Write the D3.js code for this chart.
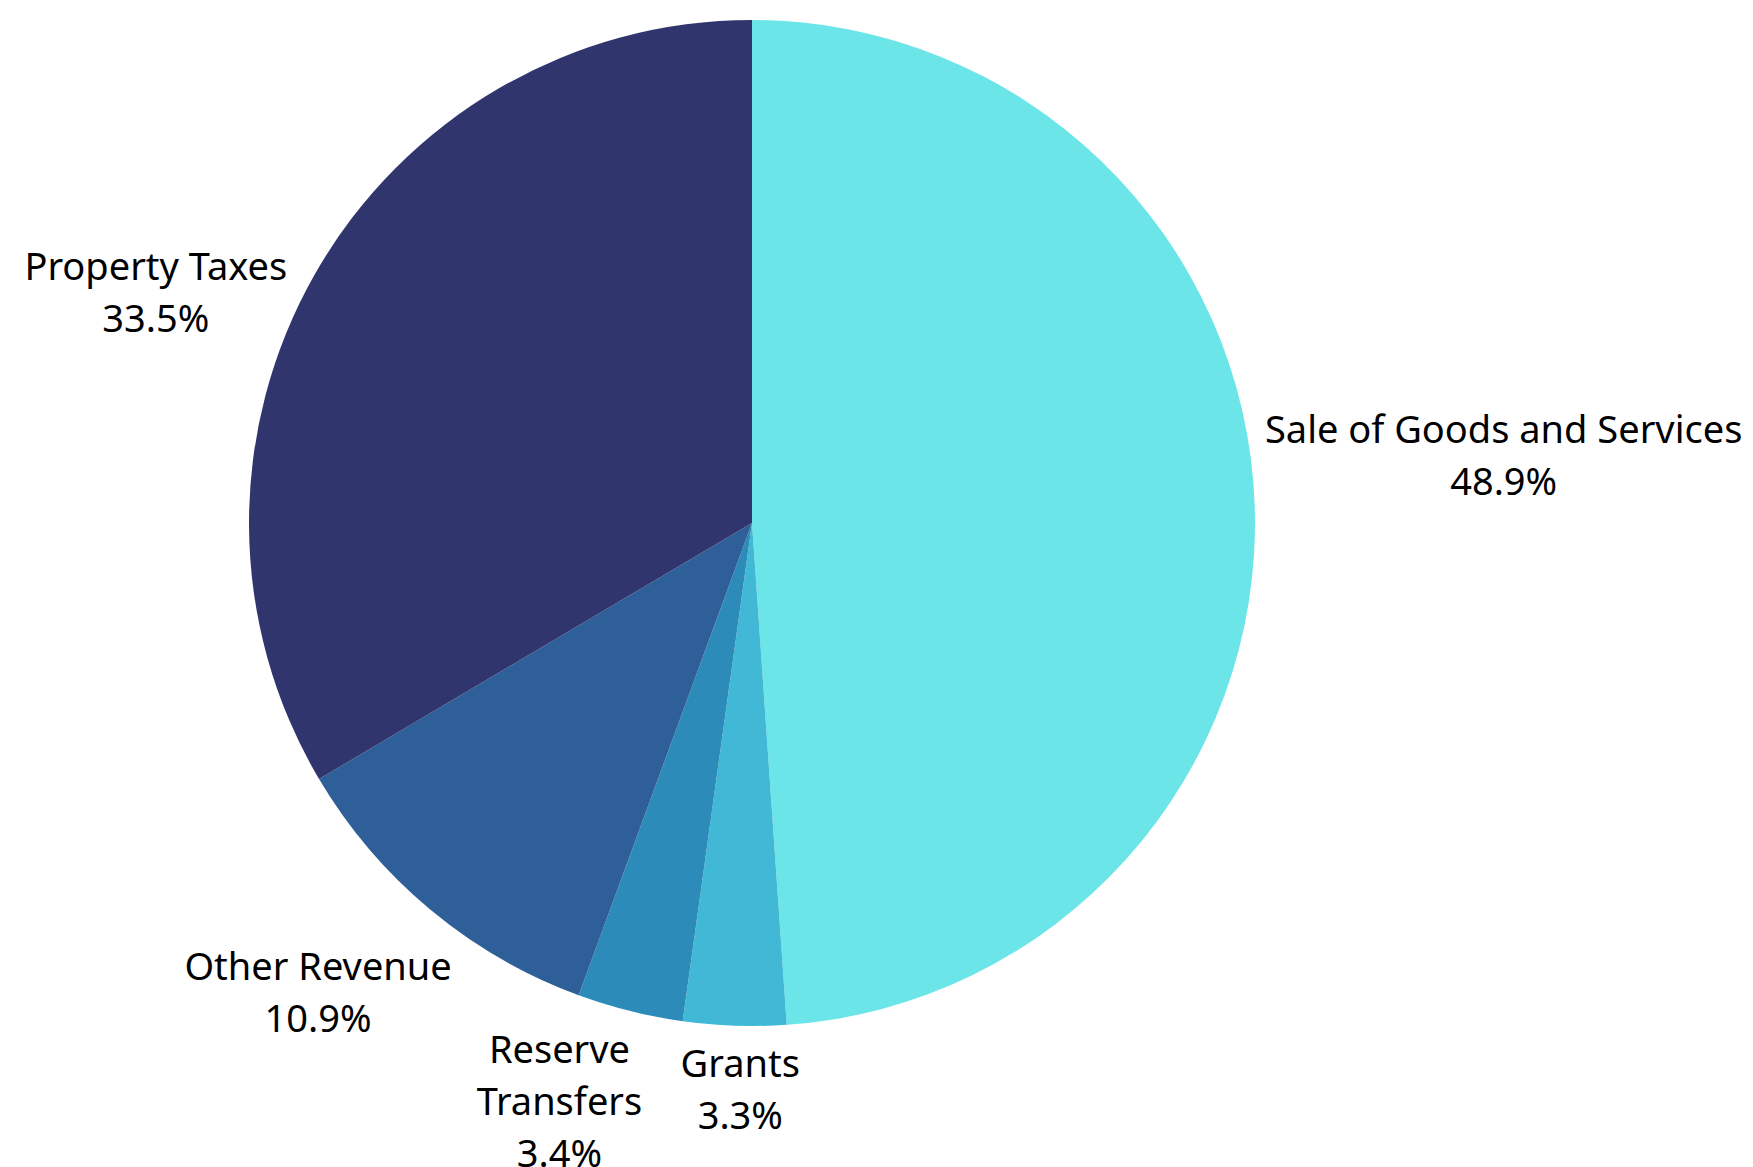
<!DOCTYPE html>
<html>
<head>
<meta charset="utf-8">
<script src="https://cdn.jsdelivr.net/npm/d3@7"></script>
<style>
	body { margin: 0; background: #ffffff; }
	svg { display: block; }
	.slice-label { font-family: "Noto Sans", sans-serif; font-size: 38px; fill: #000000; }
</style>
</head>
<body>
<div id="svg-div"></div>
<script>
// data, clockwise from 12 o'clock
var categories = ["Sale of Goods and Services", "Grants", "Reserve Transfers", "Other Revenue", "Property Taxes"];
var shares = [48.9, 3.3, 3.4, 10.9, 33.5];
var labelLines = [["Sale of Goods and Services"], ["Grants"], ["Reserve", "Transfers"], ["Other Revenue"], ["Property Taxes"]];
var sliceColors = ["#6ce5e8", "#41b8d5", "#2d8bba", "#2f5f98", "#31356e"];

var chartProperties = {
	width: 1753,
	height: 1167,
	cx: 752,
	cy: 523,
	radius: 503,
	labelRadius: 600,
	lineHeight: 52
};

// small hand tweaks so the labels sit where the original put them
var labelNudge = [[152, -47], [9, -33], [-47, -3], [-50, 9], [-75, 67]];

var rows = categories.map(function(c, i) {
	return { name: c, value: shares[i], lines: labelLines[i].concat([d3.format(".1f")(shares[i]) + "%"]), color: sliceColors[i], nudge: labelNudge[i] };
});

var svg = d3.select("#svg-div")
	.append("svg")
	.attr("width", chartProperties.width)
	.attr("height", chartProperties.height);

var g = svg.append("g")
	.attr("transform", "translate(" + chartProperties.cx + "," + chartProperties.cy + ")");

var pie = d3.pie()
	.sort(null)
	.value(function(d) { return d.value; });

var arc = d3.arc()
	.innerRadius(0)
	.outerRadius(chartProperties.radius);

var labelArc = d3.arc()
	.innerRadius(chartProperties.labelRadius)
	.outerRadius(chartProperties.labelRadius);

var arcs = pie(rows);

g.selectAll("path.slice")
	.data(arcs)
	.enter()
	.append("path")
	.attr("class", "slice")
	.attr("d", arc)
	.attr("fill", function(d) { return d.data.color; });

var labels = g.selectAll("text.slice-label")
	.data(arcs)
	.enter()
	.append("text")
	.attr("class", "slice-label")
	.attr("text-anchor", "middle")
	.attr("transform", function(d) {
		var c = labelArc.centroid(d);
		return "translate(" + (c[0] + d.data.nudge[0]) + "," + (c[1] + d.data.nudge[1]) + ")";
	});

labels.each(function(d) {
	var n = d.data.lines.length;
	var t = d3.select(this);
	d.data.lines.forEach(function(line, i) {
		t.append("tspan")
			.attr("x", 0)
			.attr("y", (i - (n - 1) / 2) * chartProperties.lineHeight)
			.attr("dy", "0.35em")
			.text(line);
	});
});
</script>
</body>
</html>
